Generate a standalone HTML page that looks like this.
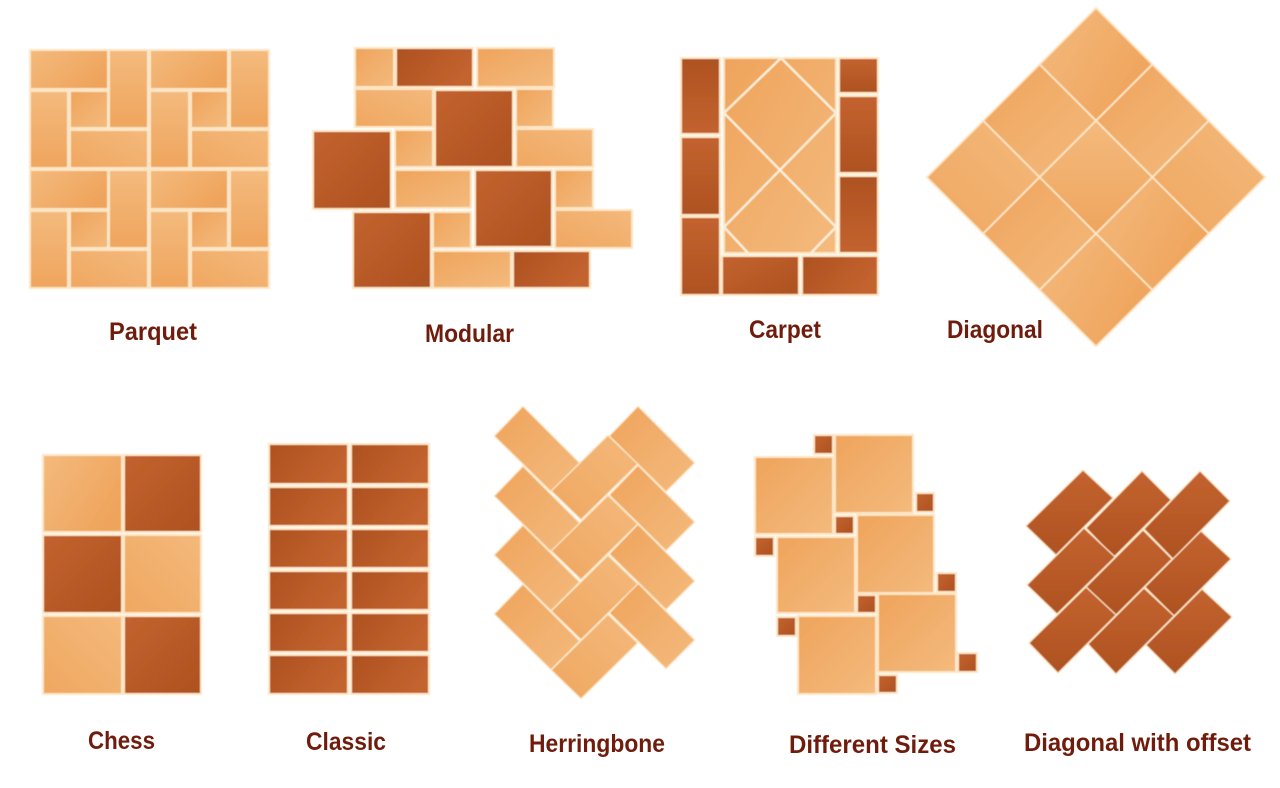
<!DOCTYPE html>
<html lang="en">
<head>
<meta charset="utf-8">
<title>Tile Laying Patterns</title>
<style>
html,body{margin:0;padding:0;background:#fff;width:1280px;height:788px;overflow:hidden}
svg{display:block}
text{font-family:"Liberation Sans",sans-serif;font-weight:700;font-size:25px;fill:#6f1f10}
.tile{stroke:#fde6c6;stroke-width:2}
#herringbone .tile,#offset .tile{paint-order:stroke;stroke-width:2.4}
#diagonal .tile{stroke-width:1.8}
.grout{stroke:#fdeed8;stroke-width:2.4;fill:none}
</style>
</head>
<body>
<svg id="board" xmlns="http://www.w3.org/2000/svg" width="1280" height="788" viewBox="0 0 1280 788">
<defs>
<filter id="soft" filterUnits="userSpaceOnUse" x="0" y="0" width="1280" height="788"><feGaussianBlur stdDeviation="0.45"/></filter>
<filter id="softtext" filterUnits="userSpaceOnUse" x="0" y="0" width="1280" height="788"><feGaussianBlur stdDeviation="0.3"/></filter>
<linearGradient id="la" x1="0" y1="0" x2="1" y2="0.6"><stop offset="0" stop-color="#f4ba7d"/><stop offset="1" stop-color="#efa45c"/></linearGradient>
<linearGradient id="lb" x1="0" y1="0" x2="1" y2="1"><stop offset="0" stop-color="#efa45c"/><stop offset="1" stop-color="#f4ba7d"/></linearGradient>
<linearGradient id="lc" x1="0" y1="1" x2="1" y2="0"><stop offset="0" stop-color="#f0a761"/><stop offset="1" stop-color="#f4b97b"/></linearGradient>
<linearGradient id="ld" x1="0" y1="0" x2="0" y2="1"><stop offset="0" stop-color="#f4ba7d"/><stop offset="1" stop-color="#efa55e"/></linearGradient>
<linearGradient id="da" x1="0" y1="0" x2="1" y2="1"><stop offset="0" stop-color="#c3632f"/><stop offset="1" stop-color="#ad5120"/></linearGradient>
<linearGradient id="db" x1="0" y1="0" x2="1" y2="0.4"><stop offset="0" stop-color="#ad5120"/><stop offset="1" stop-color="#c3632f"/></linearGradient>
<linearGradient id="dc" x1="0" y1="0" x2="0" y2="1"><stop offset="0" stop-color="#ae5221"/><stop offset="1" stop-color="#c3632f"/></linearGradient>
<linearGradient id="dd" x1="0" y1="0" x2="0" y2="1"><stop offset="0" stop-color="#c3632f"/><stop offset="1" stop-color="#ae5221"/></linearGradient>
</defs>

<g filter="url(#soft)">
<g id="parquet"></g>
<g id="modular"></g>
<g id="carpet"></g>
<g id="diagonal"></g>
<g id="chess"></g>
<g id="classic"></g>
<g id="herringbone"></g>
<g id="sizes"></g>
<g id="offset"></g>
</g>

<g filter="url(#softtext)">
<text x="109" y="340" textLength="88" lengthAdjust="spacingAndGlyphs">Parquet</text>
<text x="425" y="342" textLength="89" lengthAdjust="spacingAndGlyphs">Modular</text>
<text x="749" y="338" textLength="72" lengthAdjust="spacingAndGlyphs">Carpet</text>
<text x="947" y="338" textLength="96" lengthAdjust="spacingAndGlyphs">Diagonal</text>
<text x="88" y="749" textLength="67" lengthAdjust="spacingAndGlyphs">Chess</text>
<text x="306" y="750" textLength="80" lengthAdjust="spacingAndGlyphs">Classic</text>
<text x="529" y="752" textLength="136" lengthAdjust="spacingAndGlyphs">Herringbone</text>
<text x="789" y="753" textLength="167" lengthAdjust="spacingAndGlyphs">Different Sizes</text>
<text x="1024" y="751" textLength="227" lengthAdjust="spacingAndGlyphs">Diagonal with offset</text>
</g>
</svg>

<script>
var NS = 'http://www.w3.org/2000/svg';

// Parquet: one 120px-tall block, drawn twice
var parquetBlock = [
  [30,108,50,89,'la'],[109,148,50,128,'ld'],[150,228,50,89,'la'],[230,269,50,128,'ld'],
  [30,68,91,168,'ld'],[70,108,91,128,'lb'],[70,148,130,168,'lc'],[150,189,91,168,'ld'],
  [191,228,91,128,'lb'],[191,269,130,168,'lc']
];
var parquetOffsets = [0, 120];

var modularTiles = [
  [355,394,48,87,'lb'],[396,473,48,87,'db'],[477,554,48,87,'lb'],
  [355,433,89,127,'lc'],[435,513,90,167,'da'],[516,553,89,127,'lb'],
  [313,391,131,209,'da'],[395,433,130,167,'lb'],[516,593,129,167,'lc'],
  [395,471,170,208,'lb'],[475,552,170,247,'da'],[555,593,170,208,'lb'],
  [353,431,212,288,'da'],[433,471,212,248,'lb'],[555,632,210,248,'lc'],
  [433,511,251,288,'lb'],[513,590,251,288,'db']
];

var carpetTiles = [
  [681,720,58,134,'dc'],[681,720,137,215,'dd'],[681,720,217,295,'dd'],
  [839,878,58,93,'dd'],[839,878,96,173,'dd'],[839,878,176,253,'dc'],
  [722,799,256,295,'da'],[802,878,256,295,'db']
];
var carpetField = [724,836,58,253,'lb'];
var carpetLines = [
  [724,113,781,58],[781,58,836,113],[724,113,836,227],[836,113,724,227],
  [724,227,748,253],[836,227,811,253]
];

var chessTiles = [
  [43,122,455,532,'la'],[124,201,455,532,'da'],
  [43,122,535,613,'da'],[124,201,535,613,'lc'],
  [43,122,616,694,'lc'],[124,201,616,694,'da']
];

var classicColumns = [[269,348],[351,429]];
var classicRows = [[444,484],[487,526],[529,568],[571,610],[613,652],[655,694]];

var sizesTiles = [
  [835,913,435,513,'lb'],[755,833,457,534,'lb'],[857,934,515,593,'lb'],
  [777,855,537,613,'lb'],[878,956,594,672,'lb'],[798,876,616,694,'lb'],
  [814,833,435,454,'da'],[916,934,493,512,'da'],[835,854,516,534,'da'],
  [755,774,537,556,'da'],[937,956,573,592,'da'],[857,876,595,613,'da'],
  [777,796,617,636,'da'],[958,977,653,672,'da'],[878,897,675,693,'da']
];

// Herringbone: anchor = top corner of each tile
var herringFalling = [[523,408],[523,468],[523,527],[523,586],[638,408],[638,467],[638,526],[638,585]];
var herringRising = [[608,437],[608,497],[608,557],[608,616]];

var offsetTiles = [
  [[1083,472],[1111,498],[1056,553],[1028,526]],
  [[1142,473],[1169,500],[1114,555],[1088,528]],
  [[1200,473],[1228,501],[1173,557],[1146,529]],
  [[1084,530],[1113,557],[1057,612],[1029,585]],
  [[1143,532],[1170,559],[1115,614],[1088,587]],
  [[1201,533],[1229,559],[1174,614],[1147,587]],
  [[1086,589],[1114,615],[1058,671],[1031,643]],
  [[1144,590],[1172,616],[1116,672],[1090,644]],
  [[1202,591],[1230,617],[1175,672],[1148,645]]
];

var diagTop = [1096,8];
var diagStep = 56.4;
var diagFills = ['la','lb','lc','lb','ld','la','lc','lb','la'];

// Push each corner of a four-sided tile outward along its two edges
function grow(pts, d) {
  return pts.map(function (p, i) {
    var a = pts[(i + 1) % pts.length];
    var b = pts[(i + pts.length - 1) % pts.length];
    var la = Math.hypot(p[0] - a[0], p[1] - a[1]);
    var lb = Math.hypot(p[0] - b[0], p[1] - b[1]);
    return [
      p[0] + d * ((p[0] - a[0]) / la + (p[0] - b[0]) / lb),
      p[1] + d * ((p[1] - a[1]) / la + (p[1] - b[1]) / lb)
    ];
  });
}

function addRect(groupId, t, name) {
  var el = document.createElementNS(NS, 'rect');
  el.setAttribute('x', t[0]);
  el.setAttribute('y', t[2]);
  el.setAttribute('width', t[1] - t[0]);
  el.setAttribute('height', t[3] - t[2]);
  el.setAttribute('fill', 'url(#' + t[4] + ')');
  el.setAttribute('class', 'tile');
  
  
  document.getElementById(groupId).appendChild(el);
}
function addPoly(groupId, pts, fill, name) {
  var el = document.createElementNS(NS, 'polygon');
  el.setAttribute('points', pts.map(function (p) { return p[0] + ',' + p[1]; }).join(' '));
  el.setAttribute('fill', 'url(#' + fill + ')');
  el.setAttribute('class', 'tile');
  
  
  document.getElementById(groupId).appendChild(el);
}
function addLine(groupId, l, name) {
  var el = document.createElementNS(NS, 'line');
  el.setAttribute('x1', l[0]);
  el.setAttribute('y1', l[1]);
  el.setAttribute('x2', l[2]);
  el.setAttribute('y2', l[3]);
  el.setAttribute('class', 'grout');
  
  
  document.getElementById(groupId).appendChild(el);
}

parquetOffsets.forEach(function (dy) {
  parquetBlock.forEach(function (t) {
    addRect('parquet', [t[0], t[1], t[2] + dy, t[3] + dy, t[4]], 'parquet-tile');
  });
});
modularTiles.forEach(function (t) { addRect('modular', t, 'modular-tile'); });
carpetTiles.forEach(function (t) { addRect('carpet', t, 'carpet-border-tile'); });
addRect('carpet', carpetField, 'carpet-field');
carpetLines.forEach(function (l) { addLine('carpet', l, 'carpet-grout-line'); });

for (var r = 0; r < 3; r++) {
  for (var c = 0; c < 3; c++) {
    var x0 = diagTop[0] + (c - r) * diagStep;
    var y0 = diagTop[1] + (c + r) * diagStep;
    addPoly('diagonal', [
      [x0, y0], [x0 + diagStep, y0 + diagStep], [x0, y0 + 2 * diagStep], [x0 - diagStep, y0 + diagStep]
    ], diagFills[r * 3 + c], 'diagonal-tile');
  }
}

chessTiles.forEach(function (t) { addRect('chess', t, 'chess-tile'); });
classicColumns.forEach(function (col) {
  classicRows.forEach(function (row) {
    addRect('classic', [col[0], col[1], row[0], row[1], 'db'], 'classic-tile');
  });
});
herringFalling.forEach(function (p) {
  addPoly('herringbone', grow([
    p, [p[0] + 55, p[1] + 55], [p[0] + 28, p[1] + 82], [p[0] - 27, p[1] + 28]
  ], 0.6), 'lb', 'herringbone-tile');
});
herringRising.forEach(function (p) {
  addPoly('herringbone', grow([
    p, [p[0] + 28, p[1] + 27], [p[0] - 27, p[1] + 81], [p[0] - 55, p[1] + 54]
  ], 0.6), 'lc', 'herringbone-tile');
});
sizesTiles.forEach(function (t) { addRect('sizes', t, 'different-sizes-tile'); });
offsetTiles.forEach(function (pts) { addPoly('offset', grow(pts, 0.9), 'dd', 'offset-tile'); });
</script>
</body>
</html>
